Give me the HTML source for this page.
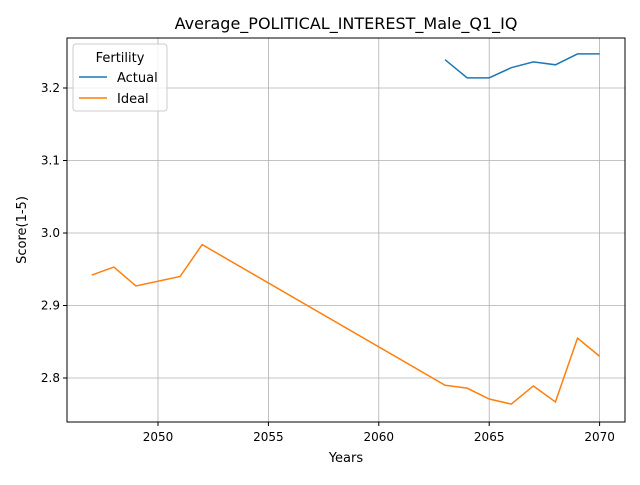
<!DOCTYPE html>
<html><head><meta charset="utf-8"><style>
body{margin:0;background:#fff;font-family:"Liberation Sans","DejaVu Sans",sans-serif;}
svg text{font-family:"DejaVu Sans","Liberation Sans",sans-serif;}
</style></head><body>
<svg id="chart" width="640" height="480" xmlns="http://www.w3.org/2000/svg">
<rect width="640" height="480" fill="#fff"/>
<g id="grid"></g>
<g id="series"></g>
<rect x="67" y="38" width="558" height="384" fill="none" stroke="#000" stroke-width="1"/>
<g id="xticks"></g><g id="yticks"></g>
<text x="346" y="29" font-size="16" text-anchor="middle">Average_POLITICAL_INTEREST_Male_Q1_IQ</text>
<text x="346" y="462" font-size="13" text-anchor="middle">Years</text>
<text x="26" y="230" font-size="13" text-anchor="middle" transform="rotate(-90 26 230)">Score(1-5)</text>
<g>
<rect x="73" y="44" width="94" height="67" rx="3" fill="#fff" fill-opacity="0.8" stroke="#ccc"/>
<text x="120" y="62" font-size="13" text-anchor="middle">Fertility</text>
<line x1="79" y1="77" x2="107" y2="77" stroke="#1f77b4" stroke-width="1.5"/>
<text x="117" y="82" font-size="13">Actual</text>
<line x1="79" y1="98" x2="107" y2="98" stroke="#ff7f0e" stroke-width="1.5"/>
<text x="117" y="103" font-size="13">Ideal</text>
</g>
</svg>
<script>
const actualYears=[2063,2064,2065,2066,2067,2068,2069,2070];
const actualValues=[3.239,3.214,3.214,3.228,3.236,3.232,3.247,3.247];
const idealYears=[2047,2048,2049,2051,2052,2063,2064,2065,2066,2067,2068,2069,2070];
const idealValues=[2.942,2.953,2.927,2.940,2.984,2.790,2.786,2.771,2.764,2.789,2.767,2.855,2.830];
const xTicks=[2050,2055,2060,2065,2070];
const yTicks=[2.8,2.9,3.0,3.1,3.2];
const NS="http://www.w3.org/2000/svg";
const X=v=>158+(v-2050)*22.08;
const Y=v=>378-(v-2.8)*725;
function mk(t,a,p){const e=document.createElementNS(NS,t);for(const k in a)e.setAttribute(k,a[k]);p.appendChild(e);return e;}
const grid=document.getElementById('grid'),xt=document.getElementById('xticks'),yt=document.getElementById('yticks'),ser=document.getElementById('series');
xTicks.forEach(t=>{const x=X(t);
 const g=mk('line',{x1:x,x2:x,y1:38,y2:422,stroke:'#b0b0b0','stroke-width':0.8},grid);
 
 
 mk('line',{x1:x,x2:x,y1:422,y2:426,stroke:'#000'},xt);
 const l=mk('text',{x:x,y:441,'font-size':12,'text-anchor':'middle'},xt);l.textContent=t;
 
 });
yTicks.forEach(t=>{const y=Y(t);
 const g=mk('line',{x1:67,x2:625,y1:y,y2:y,stroke:'#b0b0b0','stroke-width':0.8},grid);
 
 
 mk('line',{x1:63,x2:67,y1:y,y2:y,stroke:'#000'},yt);
 const l=mk('text',{x:60,y:y+4,'font-size':12,'text-anchor':'end'},yt);l.textContent=t.toFixed(1);
 
 });
function line(xs,vs,c,name){const p=mk('polyline',{points:xs.map((x,i)=>X(x)+','+Y(vs[i])).join(' '),fill:'none',stroke:c,'stroke-width':1.5},ser);
 
 }
line(actualYears,actualValues,'#1f77b4','actual-line');
line(idealYears,idealValues,'#ff7f0e','ideal-line');
</script>
</body></html>
